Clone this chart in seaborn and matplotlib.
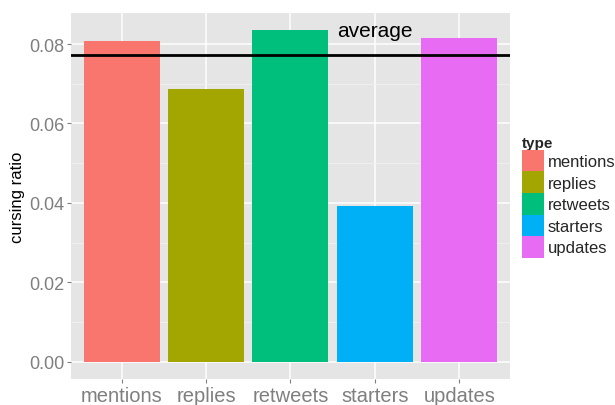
import matplotlib
matplotlib.use("Agg")
import matplotlib.pyplot as plt
import seaborn as sns
import pandas as pd

# data
types = ["mentions", "replies", "retweets", "starters", "updates"]
ratios = [0.0808, 0.0687, 0.0835, 0.0392, 0.0815]
colors = ["#F8766D", "#A3A500", "#00BF7D", "#00B0F6", "#E76BF3"]
average = 0.0772
label_pos = ("starters", 0.0833)

df = pd.DataFrame({"type": types, "ratio": ratios})

sns.set_theme(style="darkgrid")
plt.rcParams.update({
    "font.family": ["Liberation Sans", "DejaVu Sans"],
    "axes.facecolor": "#E5E5E5",
    "grid.color": "white",
})

fig = plt.figure(figsize=(6.15, 4.06), dpi=100)
ax = fig.add_axes([0.1154, 0.064, 0.7136, 0.9015])

sns.barplot(data=df, x="type", y="ratio", hue="type", palette=colors,
            width=0.9, dodge=False, legend=True, saturation=1,
            linewidth=0, edgecolor="none", ax=ax)

ax.axhline(average, color="black", linewidth=2)
ax.text(types.index(label_pos[0]), label_pos[1], "average",
        ha="center", va="center", fontsize=15, color="black")

ax.set_xlim(-0.6, 4.6)
ax.set_ylim(-0.0043, 0.0878)
ax.set_yticks([0.0, 0.02, 0.04, 0.06, 0.08])
ax.set_yticklabels(["0.00", "0.02", "0.04", "0.06", "0.08"])
ax.set_yticks([0.01, 0.03, 0.05, 0.07], minor=True)
ax.grid(True, which="major", color="white", linewidth=1.1)
ax.grid(True, which="minor", color="#F2F2F2", linewidth=0.6)
ax.set_axisbelow(True)
for s in ax.spines.values():
    s.set_visible(False)

ax.tick_params(axis="both", which="major", colors="#7F7F7F", labelsize=13,
               length=3, width=0.8, direction="out", pad=2, left=True, bottom=True)
ax.tick_params(axis="x", labelsize=14.5)
ax.tick_params(which="minor", length=0)
for lbl in ax.get_xticklabels() + ax.get_yticklabels():
    lbl.set_color("#7F7F7F")
ax.set_xlabel("")
ax.set_ylabel("cursing ratio", fontsize=12, color="black", labelpad=3)

handles, labels = ax.get_legend_handles_labels()
for h in handles:
    h.set_edgecolor("none")
    h.set_linewidth(0)
leg = ax.legend(handles, labels, title="type", loc="upper left",
                bbox_to_anchor=(1.028, 0.665), frameon=False, fontsize=12,
                handlelength=1.32, handleheight=1.62, handletextpad=0.2,
                labelspacing=0.0, borderaxespad=0, borderpad=0,
                alignment="left")
leg.get_title().set_fontweight("bold")
leg.get_title().set_fontsize(11)

fig.savefig("out.png", dpi=100)
